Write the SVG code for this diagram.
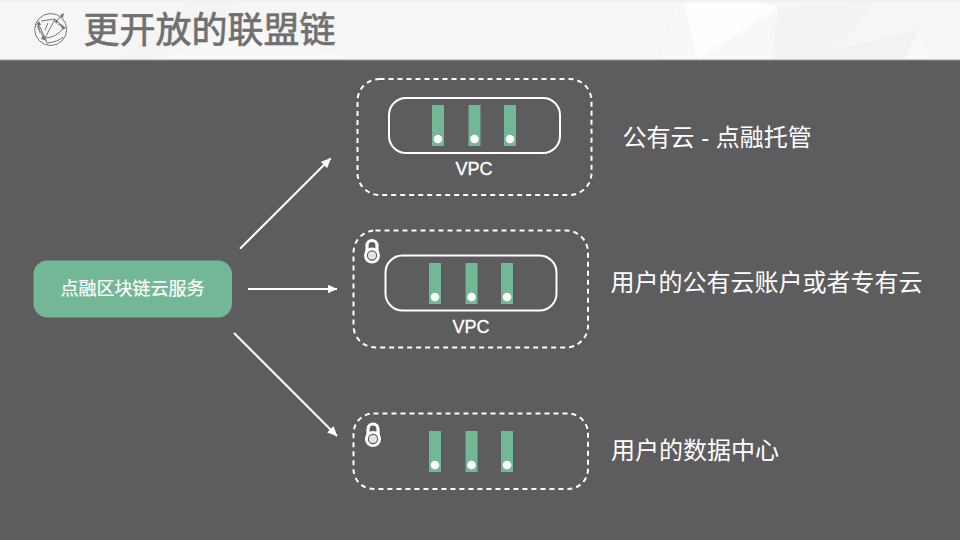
<svg xmlns="http://www.w3.org/2000/svg" width="960" height="540" viewBox="0 0 960 540">
<style>
.cjk{font-family:"Liberation Sans","Noto Sans CJK SC",sans-serif}
.lab{font-size:24px;fill:#fff}
.vpc{font-family:"Liberation Sans",sans-serif;font-size:18px;fill:#fff;stroke:#fff;stroke-width:.3;text-anchor:middle}
.dash{fill:none;stroke:#fff;stroke-width:2;stroke-dasharray:5 4}
.vbox{fill:none;stroke:#fff;stroke-width:2}
.bar{fill:#73b896}
.dot{fill:#fff}
.conn{stroke:#fff;stroke-width:2;fill:none;marker-end:url(#arr)}
.ic{stroke:#777;stroke-width:1;fill:none}
.ica{fill:#777}
</style>
<defs>
<marker id="arr" viewBox="0 0 10 9" refX="9.500" refY="4.500" markerWidth="10" markerHeight="9" markerUnits="userSpaceOnUse" orient="auto"><path d="M0 0L10 4.500L0 9Z" fill="#fff"/></marker>
<g id="bars">
<rect class="bar" x="0" y="0" width="12" height="41"/><circle class="dot" cx="6" cy="34" r="4.300"/>
<rect class="bar" x="36.500" y="0" width="12" height="41"/><circle class="dot" cx="42.500" cy="34" r="4.300"/>
<rect class="bar" x="72" y="0" width="12" height="41"/><circle class="dot" cx="78" cy="34" r="4.300"/>
</g>
<g id="lock">
<path d="M-5 -3V-10a5 5 0 0 1 10 0V-3" fill="none" stroke="#fff" stroke-width="3.200"/>
<circle cx="0" cy="0" r="8" fill="#fff"/>
<circle cx="0" cy="0" r="4.600" fill="#e4e4e4" stroke="#5d5d5f" stroke-width="1.100"/>
</g>
</defs>
<rect width="960" height="540" fill="#5d5d5f"/>
<g id="header">
<rect width="960" height="60" fill="#f6f6f6"/>
<path d="M0 0H960V2.500H0Z" fill="#f1f1f1"/>
<path d="M660 60L676 2.500H685L697 60Z" fill="#f8f8f8"/>
<path d="M685 2.500H760L778 8L697 60Z" fill="#fefefe"/>
<path d="M697 60L778 8L772 60Z" fill="#f8f8f8"/>
<path d="M778 8L875 2.500L827 60H772Z" fill="#f3f3f3"/>
<path d="M833 50L919 30L905 60H827Z" fill="#f2f2f2"/>
<path d="M919 30L930 60H905Z" fill="#f9f9f9"/>
<path d="M190 2.500H240L150 60H120Z" fill="#f4f4f4"/>
<path d="M240 30L360 60H160Z" fill="#f8f8f8"/>
<rect y="59.500" width="960" height="1" fill="#9a9a9a"/>
</g>
<g id="title-icon">
<circle class="ic" cx="50.700" cy="29.500" r="16" stroke-width="1.800"/>
<path class="ic" d="M38 23L45 38M41 21L55 19M45 38L55 19M45 38L47 43M55 19L62 26M58 24L65 28M45 38Q55 38 63 29M47 43Q58 42 63 37M38 23L40 33M56 21L62 16M37 26L44 38M48 23L45 30"/>
<path class="ica" d="M60 15L64 13L63 18ZM43 35L47 41L41 39ZM36 25L39 21L41 25ZM54 21L58 20L57 24ZM66 28L61 24L62 30Z"/>
</g>
<text id="title" class="cjk" x="83.500" y="43" font-size="36" fill="#707070" stroke="#707070" stroke-width=".7">更开放的联盟链</text>
<g id="connectors">
<line class="conn" x1="240" y1="248.700" x2="330.700" y2="158.300"/>
<line class="conn" x1="248" y1="289" x2="337" y2="289"/>
<line class="conn" x1="234" y1="333" x2="337" y2="436"/>
</g>
<g id="source">
<rect x="33.500" y="260.500" width="198.500" height="57" rx="14" fill="#73b896"/>
<text class="cjk" x="132.500" y="295" font-size="18" fill="#fff" stroke="#fff" stroke-width=".2" text-anchor="middle">点融区块链云服务</text>
</g>
<g id="public-cloud">
<rect class="dash" x="357.500" y="79" width="234" height="116" rx="22"/>
<rect class="vbox" x="389" y="98" width="171" height="55" rx="17"/>
<use href="#bars" x="432" y="105"/>
<text class="vpc" x="474" y="175">VPC</text>
<text class="cjk lab" x="622.500" y="146">公有云 - 点融托管</text>
</g>
<g id="user-cloud">
<rect class="dash" x="353.500" y="230.500" width="234.500" height="117" rx="22"/>
<use href="#lock" x="372" y="255.500"/>
<rect class="vbox" x="385.500" y="255.500" width="171" height="55" rx="17"/>
<use href="#bars" x="429" y="263"/>
<text class="vpc" x="471" y="333">VPC</text>
<text class="cjk lab" x="610.500" y="291">用户的公有云账户或者专有云</text>
</g>
<g id="user-dc">
<rect class="dash" x="353.500" y="413.500" width="234.500" height="75.500" rx="20"/>
<use href="#lock" x="373" y="439"/>
<use href="#bars" x="429" y="431"/>
<text class="cjk lab" x="611" y="459">用户的数据中心</text>
</g>
</svg>
